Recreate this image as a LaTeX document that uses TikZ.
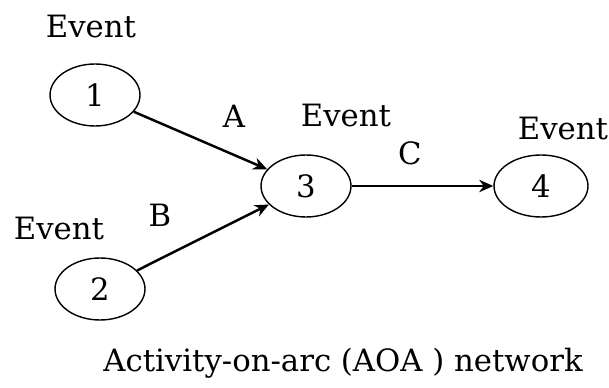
\documentclass[tikz,border=0pt]{standalone}
\usepackage{fontspec}
\setmainfont{DejaVu Serif}
\usetikzlibrary{arrows.meta,positioning,shapes.geometric}

\begin{document}
\begin{tikzpicture}[x=0.02cm, y=-0.02cm,
    every node/.style={font=\fontsize{17.5}{21}\selectfont},
    event/.style={draw, ellipse, line width=0.8pt, minimum width=1.8cm, minimum height=1.24cm, inner sep=0pt},
    activity/.style={-{Stealth[length=8pt,width=7pt]}, line width=1.4pt}]

    \useasboundingbox (0,0) rectangle (609,388);

    % ---- Events ----
    \node[event] (e1) at (95, 95)  {1};
    \node[event] (e2) at (100, 289) {2};
    \node[event] (e3) at (306, 186) {3};
    \node[event, minimum width=1.88cm] (e4) at (541, 186) {4};

    % ---- Event labels ----
    \node (lab1) at (91, 27)  {Event};
    \node (lab2) at (59, 229) {Event};
    \node (lab3) at (346, 116) {Event};
    \node (lab4) at (563, 129) {Event};

    % ---- Activity labels ----
    \node (actA) at (234, 116) {A};
    \node (actB) at (160, 215) {B};
    \node (actC) at (410, 153) {C};

    % ---- Arrows: activities ----
    \draw[activity] (e1) -- (e3);
    \draw[activity] (e2) -- (e3);
    \draw[activity] (e3) -- (e4);

    % ---- Caption ----
    \node (cap) at (343, 363) {Activity-on-arc (AOA ) network};

\end{tikzpicture}
\end{document}
